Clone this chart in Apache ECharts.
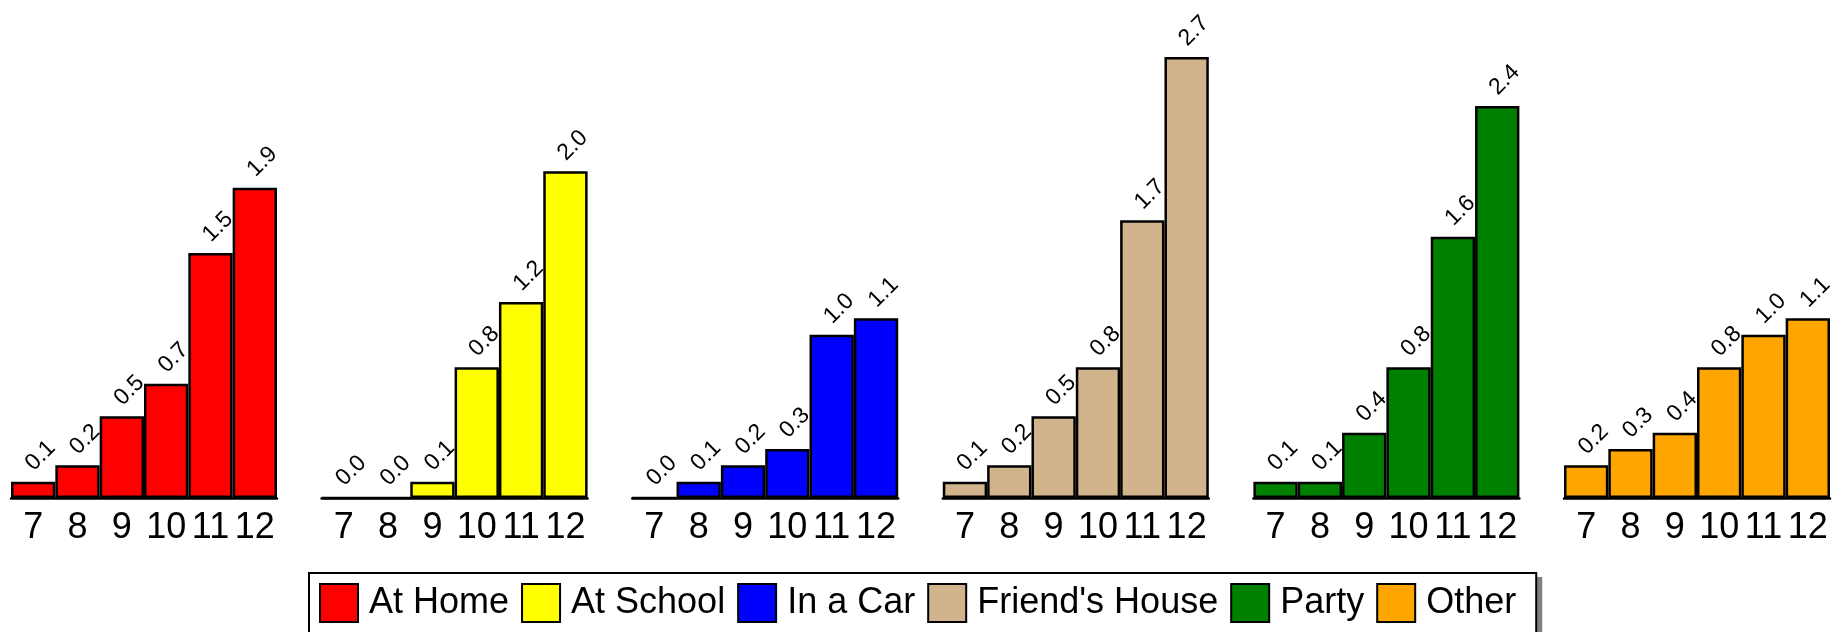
<!DOCTYPE html>
<html>
<head>
<meta charset="utf-8">
<title>Where drinking happens, by grade</title>
<script src="https://cdn.jsdelivr.net/npm/echarts@6/dist/echarts.min.js"></script>
<style>
  html, body { margin: 0; padding: 0; background: #ffffff; }
  #chart { width: 1847px; height: 632px; }
</style>
</head>
<body>
<div id="chart"></div>
<script>
// Grades shown under every panel
const grades = ['7', '8', '9', '10', '11', '12'];

// One panel per location
const locations = ['At Home', 'At School', 'In a Car', "Friend's House", 'Party', 'Other'];
const locationColors = ['#ff0000', '#ffff00', '#0000ff', '#d2b48c', '#008000', '#ffa500'];

// Percentages per grade (7 through 12)
const atHome       = [0.1, 0.2, 0.5, 0.7, 1.5, 1.9];
const atSchool     = [0.0, 0.0, 0.1, 0.8, 1.2, 2.0];
const inACar       = [0.0, 0.1, 0.2, 0.3, 1.0, 1.1];
const friendsHouse = [0.1, 0.2, 0.5, 0.8, 1.7, 2.7];
const party        = [0.1, 0.1, 0.4, 0.8, 1.6, 2.4];
const other        = [0.2, 0.3, 0.4, 0.8, 1.0, 1.1];

const seriesValues = [atHome, atSchool, inACar, friendsHouse, party, other];

// Shared value range so all panels are comparable
const valueMax = 3;

const FONT = '"Liberation Sans", Arial, Helvetica, sans-serif';

const chart = echarts.init(document.getElementById('chart'), null, { renderer: 'canvas' });

const panelLeft0 = 11;
const panelStep = 310.6;
const panelWidth = 266;
const panelTop = 8;
const panelHeight = 490;

const legendLeft = 309;
const legendTop = 573;

const grids = [], xAxes = [], yAxes = [], series = [];

locations.forEach((name, i) => {
  grids.push({
    left: panelLeft0 + i * panelStep,
    top: panelTop,
    width: panelWidth,
    height: panelHeight,
    containLabel: false
  });
  xAxes.push({
    type: 'category',
    gridIndex: i,
    data: grades,
    boundaryGap: true,
    axisLine: { show: true, lineStyle: { color: '#000', width: 2.5 } },
    axisTick: { show: false },
    splitLine: { show: false },
    axisLabel: {
      interval: 0,
      margin: 12,
      color: '#000',
      fontSize: 36,
      fontFamily: FONT
    }
  });
  yAxes.push({
    type: 'value',
    gridIndex: i,
    min: 0,
    max: valueMax,
    show: false,
    splitLine: { show: false }
  });
  series.push({
    name: name,
    type: 'bar',
    xAxisIndex: i,
    yAxisIndex: i,
    data: seriesValues[i],
    barCategoryGap: '0%',
    itemStyle: {
      color: locationColors[i],
      borderColor: '#000',
      borderWidth: 2.5
    },
    label: {
      show: true,
      position: 'top',
      distance: 18.5,
      rotate: 45,
      align: 'left',
      verticalAlign: 'middle',
      offset: [-5.5, 0],
      color: '#000',
      fontSize: 23,
      fontFamily: FONT,
      formatter: p => p.value.toFixed(1)
    },
    emphasis: { disabled: true },
    animation: false
  });
});

chart.setOption({
  backgroundColor: '#ffffff',
  animation: false,
  grid: grids,
  xAxis: xAxes,
  yAxis: yAxes,
  legend: {
    data: locations,
    orient: 'horizontal',
    left: legendLeft,
    top: legendTop,
    padding: [10, 20, 10, 10],
    itemWidth: 38,
    itemHeight: 38,
    itemGap: 12,
    icon: 'rect',
    selectedMode: false,
    backgroundColor: '#ffffff',
    borderColor: '#000',
    borderWidth: 2,
    z: 10,
    textStyle: {
      color: '#000',
      fontSize: 36,
      fontFamily: FONT,
      padding: [0, 0, 0, 6]
    }
  },
  series: series
});

// Grey drop shadow behind the legend box, sized from the laid-out legend
const legendView = chart.getViewOfComponentModel(chart.getModel().getComponent('legend'));
const box = legendView.group.getBoundingRect();
chart.setOption({
  graphic: [{
    type: 'rect',
    z: 0,
    silent: true,
    shape: {
      x: legendView.group.x + box.x + 5,
      y: legendView.group.y + box.y + 5,
      width: box.width,
      height: box.height
    },
    style: { fill: '#808080' }
  }]
});
</script>
</body>
</html>
